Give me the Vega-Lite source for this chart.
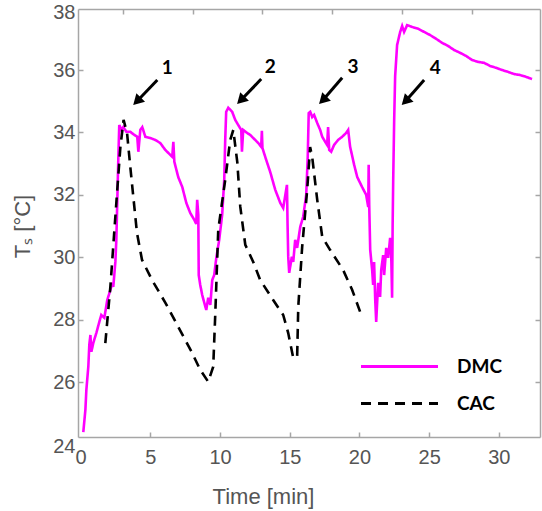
{
  "$schema": "https://vega.github.io/schema/vega-lite/v6.json",
  "width": 462,
  "height": 428,
  "autosize": {"type": "none"},
  "padding": {"left": 78, "top": 9, "right": 2, "bottom": 74},
  "background": "white",
  "config": {
    "view": {"stroke": null},
    "axis": {
      "grid": false,
      "domainColor": "#a6a6a6",
      "domainWidth": 1.5,
      "tickColor": "#a6a6a6",
      "tickWidth": 1.5,
      "tickSize": -5,
      "labelColor": "#555555",
      "labelFont": "Liberation Sans",
      "labelFontSize": 20,
      "labelFlush": false,
      "labelOverlap": false,
      "titleFont": "Liberation Sans",
      "titleFontSize": 22,
      "titleFontWeight": "normal",
      "titleColor": "#555555"
    },
    "legend": {
      "labelFont": "Lato",
      "labelFontWeight": "bold",
      "labelFontSize": 19,
      "labelColor": "#000000",
      "padding": 0
    }
  },
  "datasets": {
    "series": [
      {"series": "DMC", "t": 0.19, "v": 24.40},
      {"series": "DMC", "t": 0.34, "v": 25.11},
      {"series": "DMC", "t": 0.41, "v": 25.75},
      {"series": "DMC", "t": 0.55, "v": 26.49},
      {"series": "DMC", "t": 0.62, "v": 27.19},
      {"series": "DMC", "t": 0.70, "v": 27.51},
      {"series": "DMC", "t": 0.77, "v": 26.97},
      {"series": "DMC", "t": 0.91, "v": 27.26},
      {"series": "DMC", "t": 1.13, "v": 27.58},
      {"series": "DMC", "t": 1.34, "v": 27.93},
      {"series": "DMC", "t": 1.48, "v": 28.15},
      {"series": "DMC", "t": 1.70, "v": 28.06},
      {"series": "DMC", "t": 1.91, "v": 28.63},
      {"series": "DMC", "t": 2.13, "v": 28.95},
      {"series": "DMC", "t": 2.27, "v": 29.18},
      {"series": "DMC", "t": 2.34, "v": 29.05},
      {"series": "DMC", "t": 2.49, "v": 29.85},
      {"series": "DMC", "t": 2.56, "v": 30.56},
      {"series": "DMC", "t": 2.63, "v": 31.84},
      {"series": "DMC", "t": 2.70, "v": 33.12},
      {"series": "DMC", "t": 2.77, "v": 34.24},
      {"series": "DMC", "t": 2.92, "v": 34.08},
      {"series": "DMC", "t": 3.06, "v": 34.17},
      {"series": "DMC", "t": 3.28, "v": 34.02},
      {"series": "DMC", "t": 3.56, "v": 34.02},
      {"series": "DMC", "t": 3.85, "v": 33.92},
      {"series": "DMC", "t": 4.06, "v": 33.86},
      {"series": "DMC", "t": 4.14, "v": 33.38},
      {"series": "DMC", "t": 4.28, "v": 34.08},
      {"series": "DMC", "t": 4.42, "v": 34.17},
      {"series": "DMC", "t": 4.64, "v": 33.86},
      {"series": "DMC", "t": 5.00, "v": 33.82},
      {"series": "DMC", "t": 5.35, "v": 33.76},
      {"series": "DMC", "t": 5.71, "v": 33.66},
      {"series": "DMC", "t": 6.07, "v": 33.44},
      {"series": "DMC", "t": 6.43, "v": 33.28},
      {"series": "DMC", "t": 6.57, "v": 33.22},
      {"series": "DMC", "t": 6.65, "v": 33.70},
      {"series": "DMC", "t": 6.72, "v": 33.06},
      {"series": "DMC", "t": 7.00, "v": 32.57},
      {"series": "DMC", "t": 7.29, "v": 32.25},
      {"series": "DMC", "t": 7.58, "v": 31.74},
      {"series": "DMC", "t": 7.86, "v": 31.42},
      {"series": "DMC", "t": 8.15, "v": 31.20},
      {"series": "DMC", "t": 8.29, "v": 31.07},
      {"series": "DMC", "t": 8.36, "v": 31.84},
      {"series": "DMC", "t": 8.44, "v": 31.36},
      {"series": "DMC", "t": 8.47, "v": 29.43},
      {"series": "DMC", "t": 8.58, "v": 29.11},
      {"series": "DMC", "t": 8.72, "v": 28.79},
      {"series": "DMC", "t": 8.87, "v": 28.54},
      {"series": "DMC", "t": 9.01, "v": 28.31},
      {"series": "DMC", "t": 9.15, "v": 28.70},
      {"series": "DMC", "t": 9.30, "v": 28.47},
      {"series": "DMC", "t": 9.44, "v": 29.27},
      {"series": "DMC", "t": 9.58, "v": 29.43},
      {"series": "DMC", "t": 9.73, "v": 29.98},
      {"series": "DMC", "t": 9.94, "v": 30.56},
      {"series": "DMC", "t": 10.15, "v": 31.36},
      {"series": "DMC", "t": 10.30, "v": 32.48},
      {"series": "DMC", "t": 10.37, "v": 33.76},
      {"series": "DMC", "t": 10.44, "v": 34.66},
      {"series": "DMC", "t": 10.59, "v": 34.79},
      {"series": "DMC", "t": 10.87, "v": 34.66},
      {"series": "DMC", "t": 11.09, "v": 34.40},
      {"series": "DMC", "t": 11.30, "v": 34.24},
      {"series": "DMC", "t": 11.52, "v": 34.08},
      {"series": "DMC", "t": 11.57, "v": 33.38},
      {"series": "DMC", "t": 11.66, "v": 34.08},
      {"series": "DMC", "t": 11.95, "v": 33.98},
      {"series": "DMC", "t": 12.16, "v": 33.92},
      {"series": "DMC", "t": 12.45, "v": 33.79},
      {"series": "DMC", "t": 12.74, "v": 33.66},
      {"series": "DMC", "t": 12.95, "v": 33.54},
      {"series": "DMC", "t": 13.00, "v": 34.05},
      {"series": "DMC", "t": 13.04, "v": 33.50},
      {"series": "DMC", "t": 13.31, "v": 33.12},
      {"series": "DMC", "t": 13.60, "v": 32.73},
      {"series": "DMC", "t": 13.96, "v": 32.16},
      {"series": "DMC", "t": 14.32, "v": 31.74},
      {"series": "DMC", "t": 14.53, "v": 31.58},
      {"series": "DMC", "t": 14.80, "v": 32.32},
      {"series": "DMC", "t": 14.84, "v": 31.11},
      {"series": "DMC", "t": 14.89, "v": 30.02},
      {"series": "DMC", "t": 14.96, "v": 29.50},
      {"series": "DMC", "t": 15.15, "v": 30.02},
      {"series": "DMC", "t": 15.25, "v": 29.85},
      {"series": "DMC", "t": 15.39, "v": 30.56},
      {"series": "DMC", "t": 15.53, "v": 30.30},
      {"series": "DMC", "t": 15.75, "v": 30.97},
      {"series": "DMC", "t": 15.96, "v": 31.29},
      {"series": "DMC", "t": 16.18, "v": 32.00},
      {"series": "DMC", "t": 16.29, "v": 33.22},
      {"series": "DMC", "t": 16.36, "v": 34.62},
      {"series": "DMC", "t": 16.47, "v": 34.66},
      {"series": "DMC", "t": 16.61, "v": 34.49},
      {"series": "DMC", "t": 16.75, "v": 34.56},
      {"series": "DMC", "t": 16.97, "v": 34.30},
      {"series": "DMC", "t": 17.18, "v": 34.08},
      {"series": "DMC", "t": 17.33, "v": 33.86},
      {"series": "DMC", "t": 17.54, "v": 33.70},
      {"series": "DMC", "t": 17.68, "v": 33.60},
      {"series": "DMC", "t": 17.75, "v": 34.17},
      {"series": "DMC", "t": 17.83, "v": 33.44},
      {"series": "DMC", "t": 17.97, "v": 33.38},
      {"series": "DMC", "t": 18.18, "v": 33.60},
      {"series": "DMC", "t": 18.47, "v": 33.76},
      {"series": "DMC", "t": 18.76, "v": 33.86},
      {"series": "DMC", "t": 19.04, "v": 33.98},
      {"series": "DMC", "t": 19.19, "v": 34.08},
      {"series": "DMC", "t": 19.33, "v": 33.54},
      {"series": "DMC", "t": 19.62, "v": 32.96},
      {"series": "DMC", "t": 19.84, "v": 32.57},
      {"series": "DMC", "t": 20.19, "v": 32.25},
      {"series": "DMC", "t": 20.48, "v": 32.00},
      {"series": "DMC", "t": 20.63, "v": 31.61},
      {"series": "DMC", "t": 20.66, "v": 32.96},
      {"series": "DMC", "t": 20.70, "v": 31.68},
      {"series": "DMC", "t": 20.77, "v": 30.24},
      {"series": "DMC", "t": 20.91, "v": 29.59},
      {"series": "DMC", "t": 20.98, "v": 29.11},
      {"series": "DMC", "t": 21.05, "v": 29.85},
      {"series": "DMC", "t": 21.13, "v": 28.63},
      {"series": "DMC", "t": 21.20, "v": 27.93},
      {"series": "DMC", "t": 21.34, "v": 29.18},
      {"series": "DMC", "t": 21.48, "v": 28.73},
      {"series": "DMC", "t": 21.56, "v": 29.59},
      {"series": "DMC", "t": 21.70, "v": 30.07},
      {"series": "DMC", "t": 21.77, "v": 29.43},
      {"series": "DMC", "t": 21.92, "v": 30.30},
      {"series": "DMC", "t": 22.06, "v": 29.98},
      {"series": "DMC", "t": 22.20, "v": 30.62},
      {"series": "DMC", "t": 22.27, "v": 30.24},
      {"series": "DMC", "t": 22.34, "v": 28.70},
      {"series": "DMC", "t": 22.38, "v": 31.04},
      {"series": "DMC", "t": 22.42, "v": 32.48},
      {"series": "DMC", "t": 22.49, "v": 34.40},
      {"series": "DMC", "t": 22.56, "v": 35.81},
      {"series": "DMC", "t": 22.70, "v": 36.80},
      {"series": "DMC", "t": 22.92, "v": 37.22},
      {"series": "DMC", "t": 23.06, "v": 37.41},
      {"series": "DMC", "t": 23.20, "v": 37.22},
      {"series": "DMC", "t": 23.42, "v": 37.44},
      {"series": "DMC", "t": 23.78, "v": 37.38},
      {"series": "DMC", "t": 24.21, "v": 37.32},
      {"series": "DMC", "t": 24.64, "v": 37.22},
      {"series": "DMC", "t": 25.07, "v": 37.12},
      {"series": "DMC", "t": 25.50, "v": 37.00},
      {"series": "DMC", "t": 25.93, "v": 36.87},
      {"series": "DMC", "t": 26.36, "v": 36.77},
      {"series": "DMC", "t": 26.79, "v": 36.64},
      {"series": "DMC", "t": 27.22, "v": 36.55},
      {"series": "DMC", "t": 27.65, "v": 36.45},
      {"series": "DMC", "t": 28.08, "v": 36.32},
      {"series": "DMC", "t": 28.51, "v": 36.26},
      {"series": "DMC", "t": 28.94, "v": 36.23},
      {"series": "DMC", "t": 29.37, "v": 36.13},
      {"series": "DMC", "t": 29.80, "v": 36.07},
      {"series": "DMC", "t": 30.23, "v": 36.00},
      {"series": "DMC", "t": 30.66, "v": 35.94},
      {"series": "DMC", "t": 31.09, "v": 35.87},
      {"series": "DMC", "t": 31.52, "v": 35.84},
      {"series": "DMC", "t": 31.95, "v": 35.78},
      {"series": "DMC", "t": 32.38, "v": 35.71},
      {"series": "CAC", "t": 1.77, "v": 27.25},
      {"series": "CAC", "t": 2.13, "v": 29.04},
      {"series": "CAC", "t": 2.37, "v": 30.55},
      {"series": "CAC", "t": 2.61, "v": 32.06},
      {"series": "CAC", "t": 2.85, "v": 33.53},
      {"series": "CAC", "t": 3.08, "v": 34.40},
      {"series": "CAC", "t": 3.33, "v": 33.98},
      {"series": "CAC", "t": 3.56, "v": 32.90},
      {"series": "CAC", "t": 3.80, "v": 31.84},
      {"series": "CAC", "t": 4.04, "v": 30.78},
      {"series": "CAC", "t": 4.40, "v": 29.92},
      {"series": "CAC", "t": 5.12, "v": 29.27},
      {"series": "CAC", "t": 6.08, "v": 28.54},
      {"series": "CAC", "t": 7.00, "v": 27.77},
      {"series": "CAC", "t": 7.99, "v": 26.94},
      {"series": "CAC", "t": 8.58, "v": 26.39},
      {"series": "CAC", "t": 9.15, "v": 26.01},
      {"series": "CAC", "t": 9.51, "v": 26.49},
      {"series": "CAC", "t": 9.66, "v": 28.22},
      {"series": "CAC", "t": 9.87, "v": 30.88},
      {"series": "CAC", "t": 10.37, "v": 32.48},
      {"series": "CAC", "t": 10.73, "v": 33.76},
      {"series": "CAC", "t": 10.95, "v": 34.08},
      {"series": "CAC", "t": 11.24, "v": 33.03},
      {"series": "CAC", "t": 11.45, "v": 31.62},
      {"series": "CAC", "t": 11.81, "v": 30.40},
      {"series": "CAC", "t": 12.38, "v": 29.85},
      {"series": "CAC", "t": 12.88, "v": 29.27},
      {"series": "CAC", "t": 13.81, "v": 28.63},
      {"series": "CAC", "t": 14.53, "v": 28.15},
      {"series": "CAC", "t": 14.89, "v": 27.57},
      {"series": "CAC", "t": 15.25, "v": 26.77},
      {"series": "CAC", "t": 15.53, "v": 26.81},
      {"series": "CAC", "t": 15.61, "v": 28.41},
      {"series": "CAC", "t": 15.89, "v": 30.33},
      {"series": "CAC", "t": 16.25, "v": 32.16},
      {"series": "CAC", "t": 16.46, "v": 33.53},
      {"series": "CAC", "t": 16.61, "v": 33.21},
      {"series": "CAC", "t": 16.97, "v": 31.84},
      {"series": "CAC", "t": 17.33, "v": 30.65},
      {"series": "CAC", "t": 17.90, "v": 30.23},
      {"series": "CAC", "t": 18.83, "v": 29.59},
      {"series": "CAC", "t": 19.48, "v": 28.95},
      {"series": "CAC", "t": 20.05, "v": 28.25}
    ],
    "arrows": [
      {"id": "1", "t1": 5.50, "v1": 35.68, "t2": 4.04, "v2": 35.00, "tl": 6.21, "vl": 36.07},
      {"id": "2", "t1": 12.95, "v1": 35.71, "t2": 11.49, "v2": 35.03, "tl": 13.60, "vl": 36.10},
      {"id": "3", "t1": 18.76, "v1": 35.75, "t2": 17.37, "v2": 35.03, "tl": 19.53, "vl": 36.11},
      {"id": "4", "t1": 24.64, "v1": 35.68, "t2": 23.30, "v2": 35.00, "tl": 25.43, "vl": 36.07}
    ]
  },
  "resolve": {"axis": {"x": "independent", "y": "independent"}},
  "layer": [
    {
      "data": {"name": "series"},
      "mark": {"type": "line", "strokeWidth": 2.6, "clip": true},
      "encoding": {
        "x": {
          "field": "t", "type": "quantitative",
          "scale": {"domain": [-0.19, 32.95], "nice": false, "zero": false},
          "axis": {
            "orient": "bottom", "title": "Time [min]",
            "values": [0, 5, 10, 15, 20, 25, 30],
            "labelPadding": 15,
            "tickOpacity": {"condition": {"test": "datum.value == 0", "value": 0}, "value": 1},
            "titleX": 185, "titleY": 59, "titleBaseline": "middle", "titleAnchor": "middle", "titleAlign": "center"
          }
        },
        "y": {
          "field": "v", "type": "quantitative",
          "scale": {"domain": [24.24, 37.955], "nice": false, "zero": false},
          "axis": {
            "orient": "left", "title": "Tₛ [°C]",
            "values": [24.24, 26, 28, 30, 32, 34, 36, 37.955],
            "labelExpr": "datum.value < 25 ? '24' : (datum.value > 37 ? '38' : datum.label)",
            "labelOffset": {"condition": [{"test": "datum.value < 25", "value": 9}, {"test": "datum.value > 37", "value": 3}], "value": 0},
            "labelPadding": 8,
            "tickOpacity": {"condition": {"test": "datum.value < 25 || datum.value > 37", "value": 0}, "value": 1},
            "titleX": -56, "titleY": 217, "titleBaseline": "middle", "titleAlign": "center", "titleAngle": -90
          }
        },
        "color": {
          "field": "series", "type": "nominal",
          "scale": {"domain": ["DMC", "CAC"], "range": ["#ff00ff", "#000000"]},
          "legend": {
            "orient": "none", "legendX": 312, "legendY": 348, "title": null,
            "symbolType": "M-8,0H8", "symbolSize": 92.6, "symbolStrokeWidth": 3,
            "labelOffset": 48, "rowPadding": 17
          }
        },
        "strokeDash": {
          "field": "series", "type": "nominal",
          "scale": {"domain": ["DMC", "CAC"], "range": [[1, 0], [10, 7]]},
          "legend": {
            "orient": "none", "legendX": 312, "legendY": 348, "title": null,
            "symbolType": "M-8,0H8", "symbolSize": 92.6, "symbolStrokeWidth": 3,
            "labelOffset": 48, "rowPadding": 17
          }
        }
      }
    },
    {
      "data": {"name": "arrows"},
      "mark": {"type": "rule", "color": "#000000", "strokeWidth": 3},
      "encoding": {
        "x": {
          "field": "t1", "type": "quantitative",
          "axis": {
            "orient": "top", "title": null, "labels": false,
            "values": [3.06, 8.08, 13.03, 18.04, 23.06, 28.08]
          }
        },
        "x2": {"field": "t2"},
        "y": {
          "field": "v1", "type": "quantitative",
          "axis": {
            "orient": "right", "title": null, "labels": false,
            "values": [26, 28, 30, 32, 34, 36]
          }
        },
        "y2": {"field": "v2"}
      }
    },
    {
      "data": {"name": "arrows"},
      "mark": {"type": "point", "shape": "triangle-up", "filled": true, "color": "#000000", "size": 150, "angle": 225, "opacity": 1},
      "encoding": {
        "x": {"field": "t2", "type": "quantitative", "axis": null},
        "y": {"field": "v2", "type": "quantitative", "axis": null}
      }
    },
    {
      "data": {"name": "arrows"},
      "mark": {"type": "text", "font": "Lato", "fontWeight": "bold", "fontSize": 19, "color": "#000000", "align": "center", "baseline": "middle"},
      "encoding": {
        "x": {"field": "tl", "type": "quantitative", "axis": null},
        "y": {"field": "vl", "type": "quantitative", "axis": null},
        "text": {"field": "id"}
      }
    }
  ]
}
